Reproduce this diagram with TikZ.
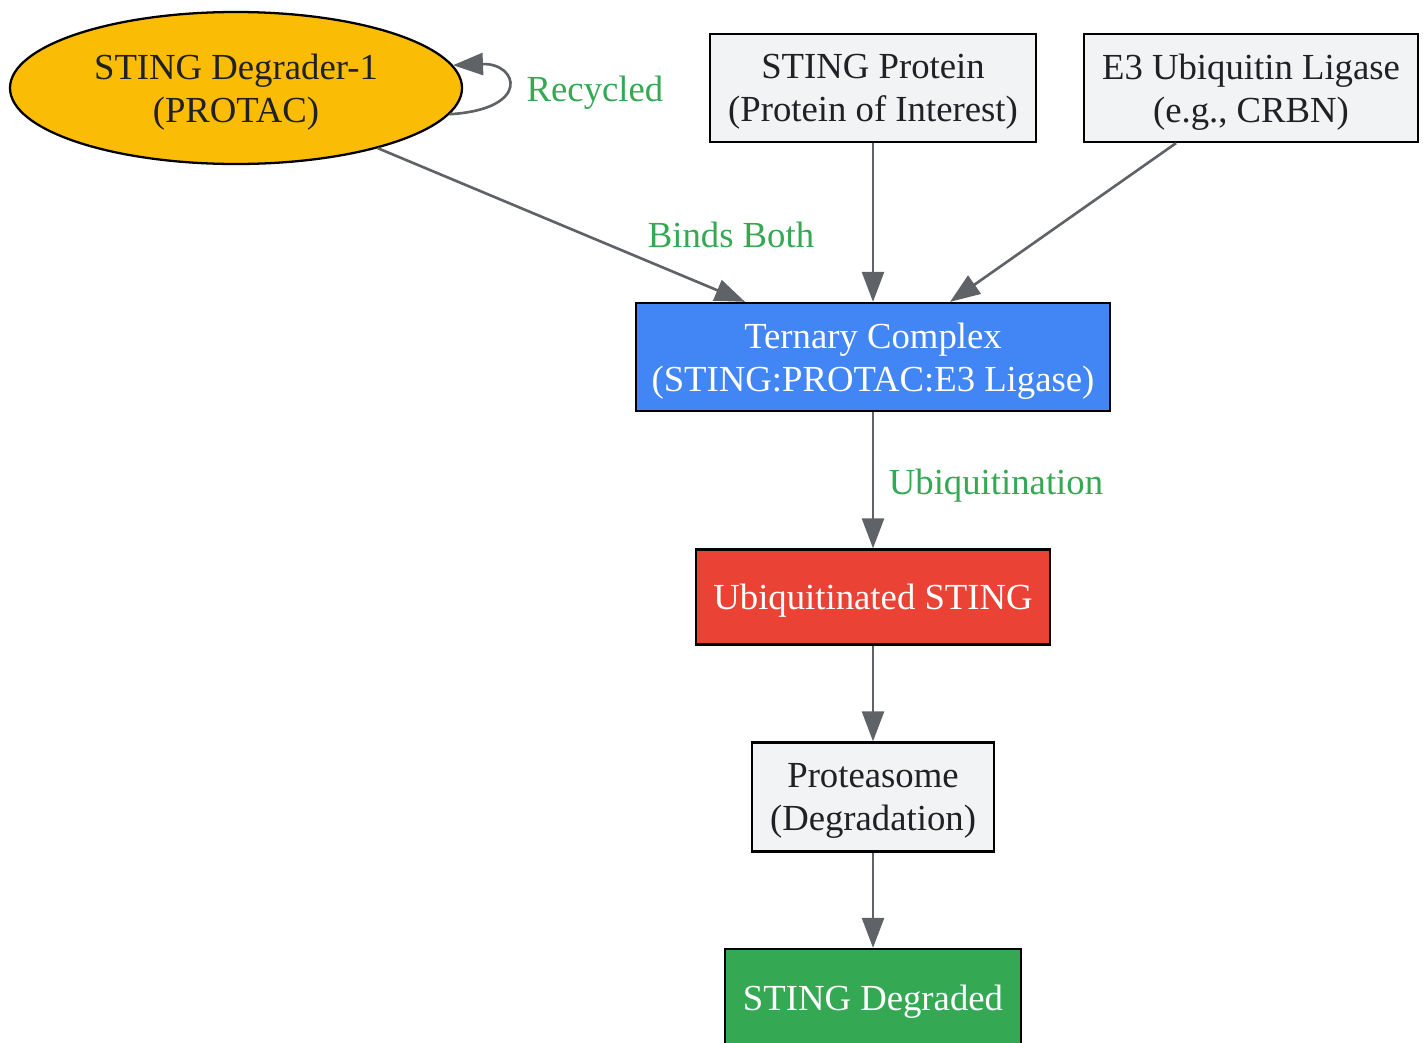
\documentclass[tikz,border=0pt]{standalone}
\usepackage{fontspec}
\setmainfont{Liberation Serif}
\usetikzlibrary{positioning,shapes,arrows.meta}

\definecolor{gyellow}{HTML}{FBBC05}
\definecolor{ggrey}{HTML}{F1F3F4}
\definecolor{gblue}{HTML}{4285F4}
\definecolor{gred}{HTML}{EA4335}
\definecolor{ggreen}{HTML}{34A853}
\definecolor{edgegrey}{HTML}{5F6368}
\definecolor{inkdark}{HTML}{202124}

\tikzset{
    box/.style={draw=black, line width=1.3pt, rectangle, align=center, text=inkdark, inner sep=0pt, text depth=-1pt},
    flow/.style={draw=edgegrey, line width=1.5pt, -{Triangle[length=0.6cm,width=0.44cm]}},
    lbl/.style={text=ggreen, inner sep=0pt}
}

\begin{document}
\begin{tikzpicture}[font=\fontsize{20.9}{24.5}\selectfont]
\useasboundingbox (0,0) rectangle (28.5,-20.84);
\begin{scope}
\clip (0,0) rectangle (28.5,-20.84);

\node[ellipse,draw=black,line width=1.3pt,fill=gyellow,text=inkdark,align=center,inner sep=0pt,text depth=-1pt,minimum width=9.04cm,minimum height=3.04cm] (degrader) at (4.72,-1.76) {STING Degrader-1\\(PROTAC)};
\node[box,fill=ggrey,minimum width=6.52cm,minimum height=2.16cm] (sting) at (17.46,-1.76) {STING Protein\\(Protein of Interest)};
\node[box,fill=ggrey,minimum width=6.68cm,minimum height=2.16cm] (ligase) at (25.02,-1.76) {E3 Ubiquitin Ligase\\(e.g., CRBN)};
\node[box,fill=gblue,text=white,minimum width=9.48cm,minimum height=2.16cm] (ternary) at (17.46,-7.14) {Ternary Complex\\(STING:PROTAC:E3 Ligase)};
\node[box,fill=gred,text=white,minimum width=7.08cm,minimum height=1.9cm] (ubsting) at (17.46,-11.94) {Ubiquitinated STING};
\node[box,fill=ggrey,minimum width=4.84cm,minimum height=2.18cm] (proteasome) at (17.46,-15.94) {Proteasome\\(Degradation)};
\node[box,fill=ggreen,text=white,minimum width=5.92cm,minimum height=1.96cm] (degraded) at (17.46,-19.96) {STING Degraded};

\draw[flow] (degrader.-23) -- ([xshift=-2.56cm]ternary.north);
\draw[flow] (sting) -- (ternary);
\draw[flow] ([xshift=-1.5cm]ligase.south) -- ([xshift=1.54cm]ternary.north);
\draw[flow] (ternary) -- (ubsting);
\draw[flow] (ubsting) -- (proteasome);
\draw[flow] (proteasome) -- (degraded);
\draw[flow] (degrader.-7) .. controls +(1.65,0.1) and +(1.3,0.05) .. (degrader.6);

\node[lbl] (recycled) at (11.9,-1.86) {Recycled};
\node[lbl] (binds) at (14.62,-4.7) {Binds Both};
\node[lbl] (ubiq) at (19.92,-9.72) {Ubiquitination};
\end{scope}
\end{tikzpicture}
\end{document}
